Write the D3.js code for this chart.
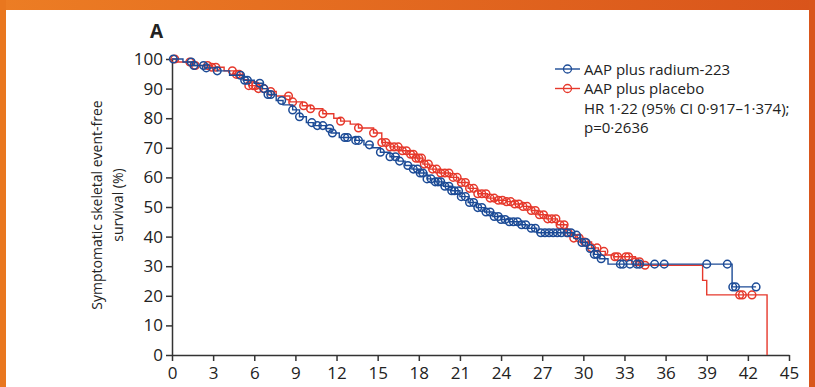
<!DOCTYPE html>
<html>
<head>
<meta charset="utf-8">
<script src="https://cdn.jsdelivr.net/npm/d3@7"></script>
<style>
body { margin: 0; background: #fff; }
svg { display: block; }
</style>
</head>
<body>
<script>
// tick labels
const xTicks = d3.range(0, 46, 3);
const yTicks = d3.range(0, 101, 10);

// KM steps [month, survival %]
const radiumSteps = [
  [0, 100], [0.8, 99], [1.5, 97.8], [2.4, 97], [3.3, 96], [4.2, 94.5], [5.2, 92.8],
  [6.0, 91.8], [6.6, 90], [7.0, 88], [7.6, 86], [8.1, 84.5], [8.8, 82.8], [9.3, 80.5],
  [9.8, 78.5], [10.3, 77.5], [11.2, 76.5], [11.6, 75], [12.2, 73.5], [13.4, 72.5],
  [14.0, 71], [14.6, 70], [15.2, 68.5], [15.9, 67], [16.5, 65.5], [17.0, 64],
  [17.5, 62.8], [18.0, 61.5], [18.6, 59.5], [19.2, 58.5], [19.8, 57], [20.4, 55.5],
  [21.0, 53.5], [21.6, 51.5], [22.2, 49.8], [22.8, 48.3], [23.4, 46.8], [24.0, 45.8],
  [24.6, 45], [25.3, 44], [25.9, 42.8], [26.6, 41.3], [29.3, 40.5], [29.8, 38],
  [30.3, 36], [30.8, 34], [31.2, 32.5], [31.8, 30.7], [40.85, 23]
];
const radiumEnd = 42.6;

const placeboSteps = [
  [0, 100], [0.3, 99], [1.5, 97.8], [2.9, 97.2], [3.8, 96], [4.5, 94.8], [5.2, 93],
  [5.6, 91], [6.2, 90], [7.0, 89], [7.6, 87.5], [8.6, 85.5], [9.5, 84.2], [10.1, 83.2],
  [11.0, 81.5], [11.8, 80], [12.3, 79], [13.0, 78], [13.6, 76.7], [14.7, 75],
  [15.3, 71.8], [15.9, 70.3], [16.6, 69], [17.3, 67.8], [17.8, 66.5], [18.3, 64.5],
  [18.8, 62.8], [19.5, 61.5], [20.3, 60], [20.9, 58.3], [21.6, 56.3], [22.3, 54.5],
  [23.0, 53], [23.6, 52.3], [24.4, 51.8], [25.0, 51], [25.6, 50.2], [26.2, 48.8],
  [26.7, 47.4], [27.3, 46], [28.1, 44], [28.8, 41.3], [29.3, 39.5], [29.8, 38.2],
  [30.6, 36.2], [31.1, 35], [31.6, 33.8], [32.2, 33.2], [33.8, 31.5], [34.2, 30.3],
  [38.7, 25.2], [39.0, 20.3], [43.4, 0]
];
const placeboEnd = 43.4;

// censor times (months)
const radiumCensors = [
  0.1, 1.4, 1.6, 2.3, 2.5, 3.3, 5.0, 5.3, 5.5, 6.4, 6.7, 7.0, 7.2, 8.0, 8.8, 9.3,
  10.2, 10.6, 11.0, 11.5, 11.7, 12.6, 12.8, 13.4, 13.6, 14.4, 15.2, 15.9, 16.3, 16.6,
  17.2, 17.6, 17.9, 18.1, 18.3, 18.6, 18.9, 19.2, 19.4, 19.6, 19.9, 20.2, 20.4, 20.6,
  20.9, 21.1, 21.4, 21.7, 22.0, 22.3, 22.6, 22.9, 23.2, 23.5, 23.8, 24.0, 24.3, 24.6,
  24.9, 25.2, 25.5, 25.8, 26.2, 26.5, 26.9, 27.2, 27.5, 27.8, 28.1, 28.4, 28.8, 29.1,
  29.5, 29.9, 30.2, 30.5, 30.8, 31.0, 31.3, 32.7, 32.9, 33.4, 33.9, 34.1, 35.2, 35.9,
  39.0, 40.5, 40.9, 41.1, 42.6
];
const placeboCensors = [
  0.2, 1.3, 1.7, 2.6, 2.9, 3.2, 4.4, 4.7, 4.9, 5.6, 5.9, 6.1, 6.3, 6.7, 7.2, 8.5, 8.8,
  9.6, 10.1, 11.0, 12.3, 13.6, 14.7, 15.3, 15.6, 15.9, 16.2, 16.5, 16.8, 17.1, 17.4,
  17.6, 17.8, 18.0, 18.2, 18.4, 18.7, 19.0, 19.3, 19.6, 19.9, 20.2, 20.5, 20.8, 21.1,
  21.4, 21.7, 22.0, 22.3, 22.6, 22.9, 23.2, 23.5, 23.8, 24.1, 24.4, 24.7, 25.0, 25.3,
  25.6, 25.9, 26.2, 26.5, 26.8, 27.1, 27.4, 27.7, 28.0, 28.3, 28.6, 28.9, 29.3, 29.7,
  30.1, 30.6, 31.0, 31.5, 32.3, 32.5, 33.1, 33.3, 33.8, 34.1, 34.5, 41.4, 41.6, 42.3
];

const legendLabels = ["AAP plus radium-223", "AAP plus placebo"];
const statLines = ["HR 1\u00b722 (95% CI 0\u00b7917\u20131\u00b7374);", "p=0\u00b72636"];

const blue = "#1c4b96";
const red = "#e6392c";

const width = 815, height = 387;
const svg = d3.select("body").append("svg")
  .attr("width", width)
  .attr("height", height);

// orange frame
const grad = svg.append("defs").append("linearGradient")
  .attr("id", "frame").attr("x1", "0%").attr("x2", "100%");
grad.append("stop").attr("offset", "0%").attr("stop-color", "#ec7d24");
grad.append("stop").attr("offset", "100%").attr("stop-color", "#d9541b");
svg.append("rect").attr("x", 0).attr("y", 0).attr("width", width).attr("height", 10).attr("fill", "url(#frame)");
svg.append("rect").attr("x", 0).attr("y", 0).attr("width", 6).attr("height", height).attr("fill", "#e9771f");
svg.append("rect").attr("x", 809).attr("y", 0).attr("width", 6).attr("height", height).attr("fill", "#d9561b");

const x = d3.scaleLinear().domain([0, 45]).range([172, 789]);
const y = d3.scaleLinear().domain([0, 100]).range([355, 59]);

const tickFont = "'Liberation Sans Narrow', 'Open Sans', sans-serif";
const textFont = "'Open Sans', 'Noto Sans', sans-serif";

// axes
const gx = svg.append("g").attr("transform", `translate(0,${y(0)})`)
  .call(d3.axisBottom(x).tickValues(xTicks).tickSize(6).tickPadding(6).tickSizeOuter(0));
const gy = svg.append("g").attr("transform", `translate(${x(0)},0)`)
  .call(d3.axisLeft(y).tickValues(yTicks).tickSize(6).tickPadding(3).tickSizeOuter(0));
[gx, gy].forEach(g => {
  g.select(".domain").attr("stroke", "#333").attr("stroke-width", 1.5);
  g.selectAll(".tick line").attr("stroke", "#333").attr("stroke-width", 1.5);
  g.selectAll(".tick text").attr("fill", "#222")
    .style("font-family", tickFont).style("font-size", "17px");
});

// y label
svg.append("text")
  .attr("transform", "translate(102,205) rotate(-90)")
  .attr("text-anchor", "middle")
  .style("font-family", textFont).style("font-size", "14px").attr("fill", "#222")
  .selectAll("tspan")
  .data(["Symptomatic skeletal event-free", "survival (%)"])
  .enter().append("tspan")
  .attr("x", 0).attr("dy", (d, i) => i === 0 ? 0 : 21)
  .text(d => d);

// panel letter
svg.append("text").attr("x", 150).attr("y", 38)
  .style("font-family", tickFont).style("font-size", "19px").style("font-weight", "bold")
  .attr("fill", "#222").text("A");

const survAt = (steps, t) => {
  let v = steps[0][1];
  steps.forEach(s => { if (s[0] <= t) v = s[1]; });
  return v;
};

const line = d3.line().x(d => x(d[0])).y(d => y(d[1])).curve(d3.curveStepAfter);

const arms = [
  { steps: radiumSteps, end: radiumEnd, censors: radiumCensors, color: blue },
  { steps: placeboSteps, end: placeboEnd, censors: placeboCensors, color: red }
];

// placebo drawn first so radium sits on top where they overlap
arms.slice().reverse().forEach(arm => {
  const pts = arm.steps.concat([[arm.end, arm.steps[arm.steps.length - 1][1]]]);
  svg.append("path").datum(pts)
    .attr("d", line)
    .attr("fill", "none")
    .attr("stroke", arm.color)
    .attr("stroke-width", 1.4);
  svg.append("g").selectAll("circle")
    .data(arm.censors)
    .enter().append("circle")
    .attr("cx", d => x(d))
    .attr("cy", d => y(survAt(arm.steps, d)))
    .attr("r", 3.8)
    .attr("fill", "none")
    .attr("stroke", arm.color)
    .attr("stroke-width", 1.5);
});

// legend
const legend = svg.append("g").attr("transform", "translate(555,69)");
legendLabels.forEach((lab, i) => {
  const g = legend.append("g").attr("transform", `translate(0,${i * 19.5})`);
  g.append("line").attr("x1", 0).attr("x2", 25).attr("stroke", arms[i].color).attr("stroke-width", 1.4);
  g.append("circle").attr("cx", 12.5).attr("r", 4).attr("fill", "none")
    .attr("stroke", arms[i].color).attr("stroke-width", 1.3);
  g.append("text").attr("x", 29).attr("y", 5.5)
    .style("font-family", textFont).style("font-size", "15px").attr("fill", "#222").text(lab);
});
statLines.forEach((s, i) => {
  legend.append("text").attr("x", 29).attr("y", 44.5 + i * 19.5)
    .style("font-family", textFont).style("font-size", "15px").attr("fill", "#222").text(s);
});
</script>
</body>
</html>
